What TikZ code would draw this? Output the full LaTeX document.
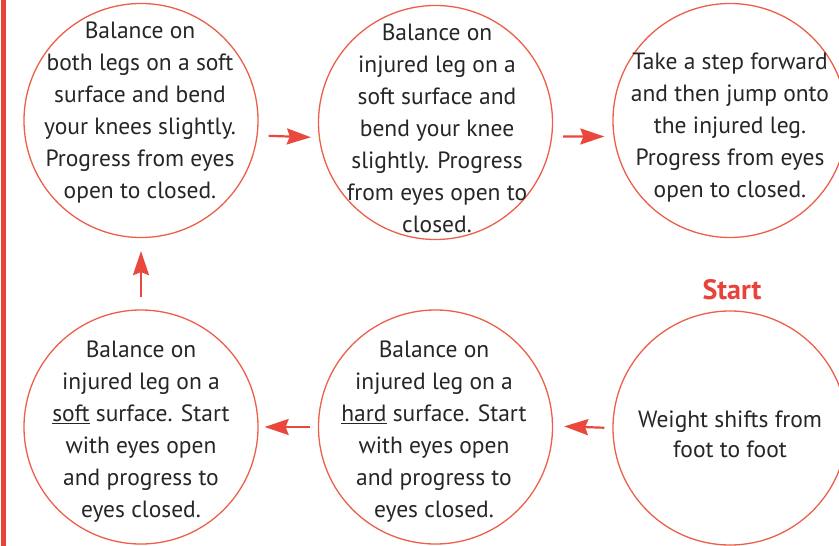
\documentclass[tikz,border=0pt]{standalone}
\usepackage{fontspec}
\setmainfont{PT Sans}
\usetikzlibrary{arrows.meta}
\definecolor{barred}{HTML}{E8433B}
\definecolor{ringred}{HTML}{EC604B}
\definecolor{arrred}{HTML}{EA473D}
\definecolor{txt}{HTML}{262626}
\tikzset{
  ring/.style={circle, draw=ringred, line width=1.3bp, minimum size=234bp, inner sep=0pt},
  body/.style={align=center, text=txt, font=\fontsize{23.5bp}{32bp}\selectfont, inner sep=0pt},
  flow/.style={draw=arrred, line width=2.2bp, -{Stealth[length=24bp, width=16bp, inset=3bp]}},
}
\begin{document}
\begin{tikzpicture}[x=1bp, y=-1bp]
\useasboundingbox (0,0) rectangle (839,546);
\fill[white] (0,0) rectangle (839,546);
\fill[barred] (1,0) rectangle (6,546);

\node[ring] (c1) at (141,120.5) {};
\node[ring] (c2) at (435.5,122.5) {};
\node[ring] (c3) at (730,120.5) {};
\node[ring] (c4) at (141,427) {};
\node[ring] (c5) at (435.5,427) {};
\node[ring] (c6) at (730,428) {};

\node[body] (t1) at (140,113) {Balance on\\both legs on a soft\\surface and bend\\your knees slightly.\\Progress from eyes\\open to closed.};
\node[body] (t2) at (437,128) {Balance on\\injured leg on a\\soft surface and\\bend your knee\\slightly. Progress\\from eyes open to\\closed.};
\node[body] (t3) at (730,128) {Take a step forward\\and then jump onto\\the injured leg.\\Progress from eyes\\open to closed.};
\node[body] (t4) at (141,432) {Balance on\\injured leg on a\\\underline{soft} surface. Start\\with eyes open\\and progress to\\eyes closed.};
\node[body] (t5) at (434,432) {Balance on\\injured leg on a\\\underline{hard} surface. Start\\with eyes open\\and progress to\\eyes closed.};
\node[body, font=\fontsize{23.5bp}{30bp}\selectfont] (t6) at (730,434) {Weight shifts from\\foot to foot};

\node[text=barred, font=\bfseries\fontsize{28bp}{30bp}\selectfont, inner sep=0pt] (start) at (732,290) {Start};

\draw[flow, shorten <=10bp, shorten >=7bp] ([yshift=-15bp]c1.east) -- ([yshift=-15bp]c2.west);
\draw[flow, shorten <=10bp, shorten >=8bp] ([yshift=-14bp]c2.east) -- ([yshift=-16bp]c3.west);
\draw[flow, shorten <=8bp, shorten >=11bp] (c6.west) -- ([yshift=1bp]c5.east);
\draw[flow, shorten <=8bp, shorten >=6bp] (c5.west) -- (c4.east);
\draw[flow, shorten <=12bp, shorten >=13bp] (c4.north) -- (c1.south);
\end{tikzpicture}
\end{document}
